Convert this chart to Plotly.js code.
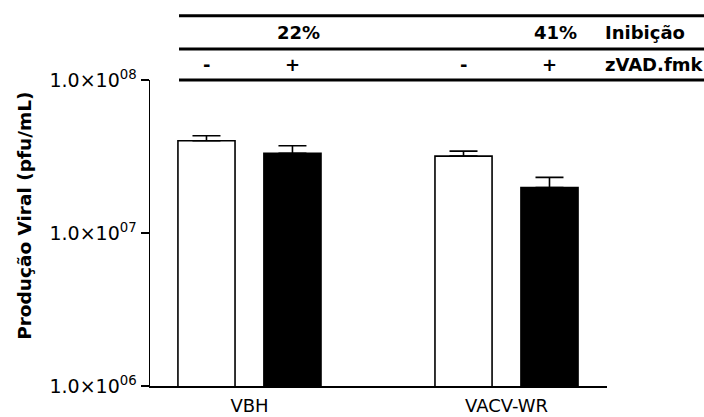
<!DOCTYPE html>
<html>
<head>
<meta charset="utf-8">
<script src="https://cdn.plot.ly/plotly-3.0.1.min.js"></script>
<style>html,body{margin:0;padding:0;background:#fff}#chart{width:704px;height:417px}</style>
</head>
<body>
<div id="chart"></div>
<script>
// Data
const viruses = ["VBH", "VACV-WR"];
const semZvad = [4.01e7, 3.18e7];      // white bars (zVAD.fmk -)
const semZvadErr = [0.31e7, 0.25e7];
const comZvad = [3.32e7, 1.98e7];      // black bars (zVAD.fmk +)
const comZvadErr = [0.40e7, 0.33e7];
const inibicao = ["22%", "41%"];
const tratamento = ["-", "+"];
const yTickVals = [1e6, 1e7, 1e8];
const yTickText = ["1.0×10<sup>06</sup>", "1.0×10<sup>07</sup>", "1.0×10<sup>08</sup>"];
const yTitle = "Produção Viral (pfu/mL)";

const FONT = "DejaVu Sans, Arial, sans-serif";

function barTrace(y, err, color) {
  return {
    type: "bar", x: viruses, y: y,
    marker: {color: color, line: {color: "#000", width: 1.6}},
    error_y: {type: "data", array: err, arrayminus: err.map(() => 0), symmetric: false,
              color: "#000", thickness: 1.6, width: 14},
    hoverinfo: "skip", showlegend: false
  };
}

const traces = [barTrace(semZvad, semZvadErr, "#ffffff"), barTrace(comZvad, comZvadErr, "#000000")];

const off = 0.167;
const annotations = [];
viruses.forEach((v, i) => {
  tratamento.forEach((t, j) => {
    annotations.push({xref: "x", yref: "paper", x: i + (j === 0 ? -off : off), y: 1.052,
      text: "<b>" + t + "</b>", showarrow: false, xanchor: "center", yanchor: "middle",
      font: {family: FONT, size: 18, color: "#000"}});
  });
  annotations.push({xref: "x", yref: "paper", x: i + 0.19, y: 1.154,
    text: "<b>" + inibicao[i] + "</b>", showarrow: false, xanchor: "center", yanchor: "middle",
    font: {family: FONT, size: 18, color: "#000"}});
});
annotations.push({xref: "paper", yref: "paper", x: 0.991, y: 1.154, text: "<b>Inibição</b>",
  showarrow: false, xanchor: "left", yanchor: "middle", font: {family: FONT, size: 18, color: "#000"}});
annotations.push({xref: "paper", yref: "paper", x: 0.991, y: 1.052, text: "<b>zVAD.fmk</b>",
  showarrow: false, xanchor: "left", yanchor: "middle", font: {family: FONT, size: 18, color: "#000"}});
annotations.push({xref: "paper", yref: "paper", x: -0.2735, y: 0.556, text: "<b>" + yTitle + "</b>",
  textangle: -90, showarrow: false, xanchor: "center", yanchor: "middle",
  font: {family: FONT, size: 18.5, color: "#000"}});

const shapes = [1.0, 1.101, 1.210].map(yy => ({
  type: "line", xref: "paper", yref: "paper", x0: 0.0635, x1: 1.215, y0: yy, y1: yy,
  line: {color: "#000", width: 3}
}));

const layout = {
  width: 704, height: 417,
  margin: {l: 150, r: 97, t: 80, b: 31},
  paper_bgcolor: "#fff", plot_bgcolor: "#fff",
  barmode: "group", bargap: 0.331, bargroupgap: 0.336,
  font: {family: FONT, color: "#000"},
  xaxis: {
    type: "category", range: [-0.387, 1.391], showline: true, linecolor: "#000", linewidth: 1.5,
    ticks: "outside", ticklen: 3, tickcolor: "rgba(0,0,0,0)", showgrid: false, zeroline: false,
    tickfont: {family: FONT, size: 18, color: "#000"}
  },
  yaxis: {
    type: "log", range: [6, 8], showline: true, linecolor: "#000", linewidth: 1.5,
    ticks: "outside", ticklen: 8, tickwidth: 1.5, tickcolor: "#000",
    tickvals: yTickVals, ticktext: yTickText, showgrid: false, zeroline: false,
    tickfont: {family: FONT, size: 19, color: "#000"}
  },
  shapes: shapes, annotations: annotations
};

Plotly.newPlot("chart", traces, layout, {displayModeBar: false, staticPlot: true});
</script>
</body>
</html>
